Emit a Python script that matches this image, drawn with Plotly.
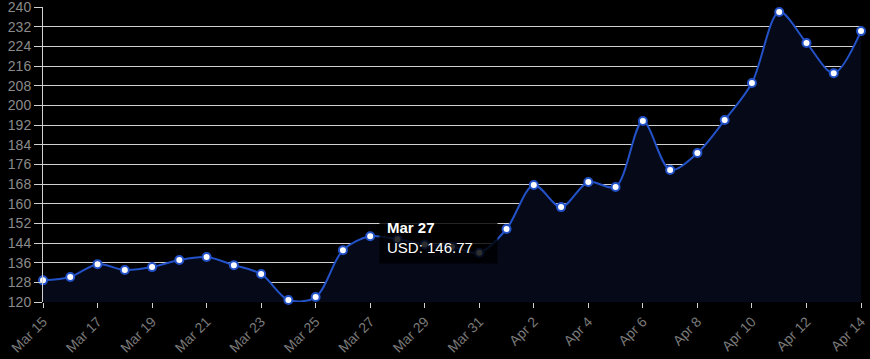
import plotly.graph_objects as go
import pandas as pd

dates = pd.date_range("2024-03-15", "2024-04-14", freq="D")
values = [128.8, 130.2, 135.4, 133.0, 134.2, 137.1, 138.3, 135.0, 131.4, 120.8,
          122.0, 141.1, 146.77, 145.5, 143.4, 142.5, 140.0, 149.7, 167.6, 158.6,
          168.8, 166.8, 193.6, 173.7, 180.6, 194.0, 209.1, 238.0, 225.4, 213.1, 230.2]
y_ticks = list(range(120, 241, 8))
tooltip_date = "2024-03-27"
tooltip_title = "Mar 27"
tooltip_label = "USD: 146.77"
tooltip_value = 146.77

fig = go.Figure()
fig.add_trace(go.Scatter(
    x=dates, y=values, mode="lines+markers",
    line=dict(color="#2352c8", width=2, shape="spline", smoothing=0.9),
    marker=dict(size=8, color="white", line=dict(color="#2352c8", width=2)),
    fill="tozeroy", fillcolor="#050918",
    hoverinfo="skip", cliponaxis=False,
))

fig.add_annotation(
    x=tooltip_date, y=tooltip_value, xref="x", yref="y",
    text=f"<b>{tooltip_title}</b><br>{tooltip_label}&nbsp;&nbsp;&nbsp;&nbsp;",
    showarrow=False, xanchor="left", yanchor="middle", xshift=9, yshift=-1,
    align="left", font=dict(color="white", size=15, family="Liberation Sans, Arial"),
    bgcolor="rgba(0,0,0,0.82)", borderpad=7,
)

fig.update_layout(
    width=870, height=359,
    margin=dict(l=43, r=9, t=7, b=57),
    paper_bgcolor="black", plot_bgcolor="black",
    showlegend=False,
    font=dict(family="Liberation Sans, Arial", size=14, color="#8a8a8a"),
    xaxis=dict(
        range=[dates[0], dates[-1]], tickformat="%b %-d", dtick=2 * 86400000,
        tick0=dates[0], tickangle=-45, showgrid=False, zeroline=False,
        ticks="outside", ticklen=5, tickcolor="#d0d0d0", automargin=False,
        showline=False, tickfont=dict(color="#7a7a7a"), ticklabeloverflow="allow",
    ),
    yaxis=dict(
        range=[120, 240], tickvals=y_ticks, showgrid=True, gridcolor="#d0d0d0",
        gridwidth=1, zeroline=False, ticks="outside", ticklen=8, tickcolor="#d0d0d0",
        showline=True, linecolor="#d0d0d0", linewidth=1, automargin=False,
        ticklabeloverflow="allow",
    ),
)

fig.write_html("out.html")
